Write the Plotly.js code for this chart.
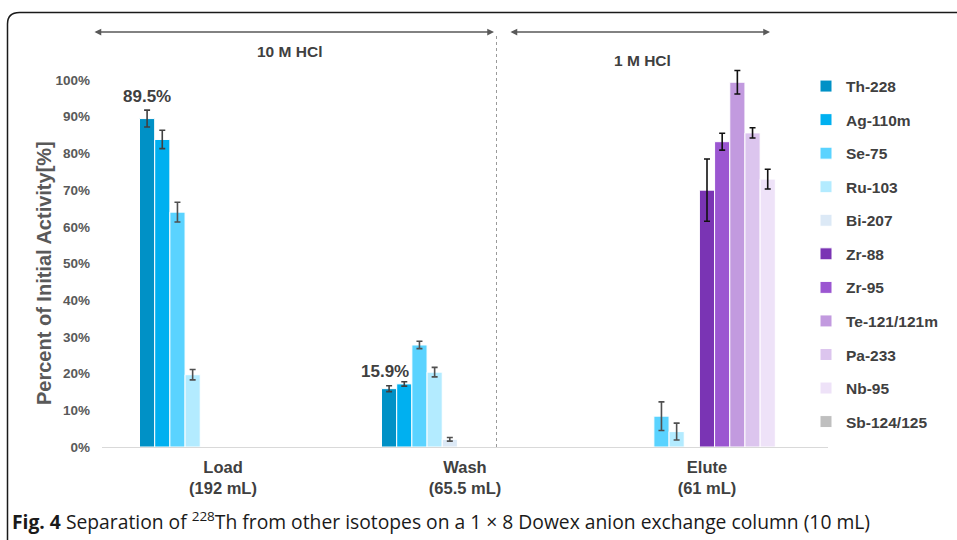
<!DOCTYPE html>
<html>
<head>
<meta charset="utf-8">
<script src="https://cdn.plot.ly/plotly-3.0.1.min.js"></script>
<style>html,body{margin:0;padding:0;background:#fff;}#chart{width:957px;height:540px;}</style>
</head>
<body>
<div id="chart"></div>
<script>
// Categories (fractions)
const categories = ["Load<br>(192 mL)", "Wash<br>(65.5 mL)", "Elute<br>(61 mL)"];
const isotopes = ["Th-228","Ag-110m","Se-75","Ru-103","Bi-207","Zr-88","Zr-95","Te-121/121m","Pa-233","Nb-95","Sb-124/125"];

// Percent of initial activity (fraction) per isotope: [Load, Wash, Elute]
const th228  = [0.895, 0.159, null];
const ag110m = [0.838, 0.172, null];
const se75   = [0.640, 0.278, 0.084];
const ru103  = [0.197, 0.204, 0.042];
const bi207  = [null, 0.021, null];
const zr88   = [null, null, 0.700];
const zr95   = [null, null, 0.832];
const te121  = [null, null, 0.994];
const pa233  = [null, null, 0.856];
const nb95   = [null, null, 0.730];
const sb124  = [null, null, null];

// Error bars (fraction)
const th228Err  = [0.023, 0.008, 0];
const ag110mErr = [0.025, 0.006, 0];
const se75Err   = [0.027, 0.010, 0.039];
const ru103Err  = [0.014, 0.013, 0.023];
const bi207Err  = [0, 0.005, 0];
const zr88Err   = [0, 0, 0.085];
const zr95Err   = [0, 0, 0.023];
const te121Err  = [0, 0, 0.032];
const pa233Err  = [0, 0, 0.014];
const nb95Err   = [0, 0, 0.027];
const sb124Err  = [0, 0, 0];

const yTickVals = [0,0.1,0.2,0.3,0.4,0.5,0.6,0.7,0.8,0.9,1.0];
const yTickText = ["0%","10%","20%","30%","40%","50%","60%","70%","80%","90%","100%"];
const yTitle = "Percent of Initial Activity[%]";

const seriesValues = [th228, ag110m, se75, ru103, bi207, zr88, zr95, te121, pa233, nb95, sb124];
const seriesErrors = [th228Err, ag110mErr, se75Err, ru103Err, bi207Err, zr88Err, zr95Err, te121Err, pa233Err, nb95Err, sb124Err];
const colors = ["#0091C6","#00B0F0","#5AD3FF","#B3EBFF","#DCE9F6","#7A34B4","#9B56D1","#C29ADF","#DCC5EE","#EEE2F8","#BFBFBF"];
const errColors = ["#404040","#404040","#505050","#505050","#505050","#111111","#111111","#111111","#111111","#111111","#404040"];

const traces = isotopes.map((name, i) => ({
  type: "bar",
  name: name,
  x: categories,
  y: seriesValues[i],
  legendgroup: "g" + i,
  marker: {color: colors[i], line: {color: "#ffffff", width: 1}},
  error_y: {type: "data", array: seriesErrors[i], visible: true, color: errColors[i], thickness: 1.6, width: 3},
  cliponaxis: false,
  hoverinfo: "skip"
}));

// pixel -> paper helpers (plot area 102..828 x, 36..447 y)
const px = p => (p - 102) / 726;
const py = p => (447 - p) / 411;

const FONT = "Liberation Sans, Arial, sans-serif";

const layout = {
  width: 957, height: 540,
  margin: {l: 102, r: 129, t: 36, b: 93},
  paper_bgcolor: "#ffffff", plot_bgcolor: "#ffffff",
  barmode: "group", bargap: 0.31, bargroupgap: 0,
  font: {family: FONT, color: "#404040"},
  showlegend: true,
  legend: {
    x: px(806), xanchor: "left", y: py(69.5), yanchor: "top",
    font: {size: 15.5, color: "#404040", family: FONT, weight: "bold"},
    tracegroupgap: 10.4, itemwidth: 30, bgcolor: "rgba(0,0,0,0)"
  },
  xaxis: {
    type: "category",
    showgrid: false, zeroline: false,
    showline: true, linecolor: "#D9D9D9", linewidth: 1,
    ticks: "", ticklabelstandoff: 5,
    tickfont: {size: 16.5, color: "#404040", weight: "bold"},
    fixedrange: true
  },
  yaxis: {
    range: [0, 1.12],
    tickvals: yTickVals, ticktext: yTickText,
    showgrid: false, zeroline: false, showline: false,
    ticks: "", ticklabelstandoff: 11,
    tickfont: {size: 13.5, color: "#595959", weight: "bold"},
    fixedrange: true
  },
  shapes: [
    // dashed separator
    {type: "line", xref: "paper", yref: "paper", x0: px(496.5), x1: px(496.5), y0: 0, y1: py(33),
     line: {color: "#9A9A9A", width: 1, dash: "dot"}},
    // frame: rounded top-left corner
    {type: "path", xref: "paper", yref: "paper",
     path: "M " + px(7.5) + "," + py(545) + " L " + px(7.5) + "," + py(24) +
           " Q " + px(7.5) + "," + py(12.5) + " " + px(19.5) + "," + py(12.5) +
           " L " + px(965) + "," + py(12.5),
     line: {color: "#1a1a1a", width: 1.5}}
  ],
  annotations: [
    {xref: "paper", yref: "paper", x: px(494), y: py(32), ax: -401, ay: 0, axref: "pixel", ayref: "pixel",
     text: "", showarrow: true, arrowhead: 2, arrowside: "end+start", arrowsize: 0.9, arrowwidth: 1.5, arrowcolor: "#595959"},
    {xref: "paper", yref: "paper", x: px(770), y: py(32), ax: -261, ay: 0, axref: "pixel", ayref: "pixel",
     text: "", showarrow: true, arrowhead: 2, arrowside: "end+start", arrowsize: 0.9, arrowwidth: 1.5, arrowcolor: "#595959"},
    {xref: "paper", yref: "paper", x: px(44), xanchor: "center", y: py(273), yanchor: "middle", textangle: -90,
     text: yTitle, showarrow: false, font: {size: 20, color: "#595959", weight: "bold"}},
    {xref: "paper", yref: "paper", x: px(289), xanchor: "center", y: py(52), yanchor: "middle", text: "10 M HCl", showarrow: false,
     font: {size: 15.5, color: "#404040", weight: "bold"}},
    {xref: "paper", yref: "paper", x: px(642), xanchor: "center", y: py(60), yanchor: "middle", text: "1 M HCl", showarrow: false,
     font: {size: 15.5, color: "#404040", weight: "bold"}},
    {xref: "x", yref: "y", x: categories[0], y: th228[0] + 0.061, xshift: -76, xanchor: "center", text: "89.5%", showarrow: false,
     font: {size: 17, color: "#404040", weight: "bold"}},
    {xref: "x", yref: "y", x: categories[1], y: th228[1] + 0.048, xshift: -80, xanchor: "center", text: "15.9%", showarrow: false,
     font: {size: 17, color: "#404040", weight: "bold"}},
    {xref: "paper", yref: "paper", x: px(10), xanchor: "left", y: py(521), yanchor: "middle",
     text: "<b>Fig. 4</b> Separation of <sup>228</sup>Th from other isotopes on a 1 × 8 Dowex anion exchange column (10 mL)",
     showarrow: false, font: {size: 19.3, color: "#1a1a1a", family: "Open Sans, Noto Sans, sans-serif"}}
  ]
};

Plotly.newPlot("chart", traces, layout, {displayModeBar: false, staticPlot: true});
</script>
</body>
</html>
